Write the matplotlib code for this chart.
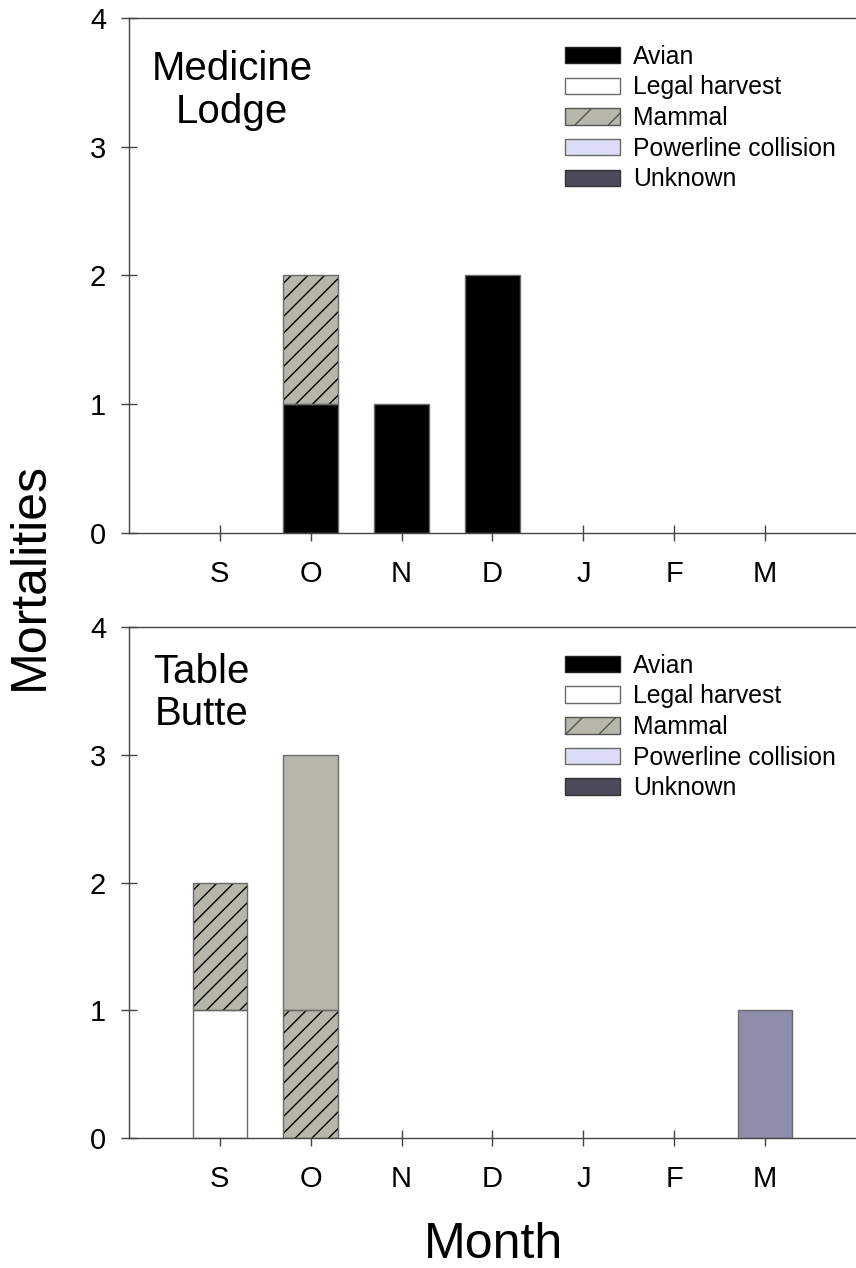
import numpy as np
import matplotlib.pyplot as plt
from matplotlib.patches import Patch

plt.rcParams['font.family'] = ['Liberation Sans', 'DejaVu Sans']
plt.rcParams['hatch.linewidth'] = 1.0

months = ['S', 'O', 'N', 'D', 'J', 'F', 'M']
causes = ['Avian', 'Legal harvest', 'Mammal', 'Powerline collision', 'Unknown']

# Medicine Lodge
avian_ml = [0, 1, 1, 2, 0, 0, 0]
legal_ml = [0, 0, 0, 0, 0, 0, 0]
mammal_ml = [0, 1, 0, 0, 0, 0, 0]
mammal_plain_ml = [0, 0, 0, 0, 0, 0, 0]
power_ml = [0, 0, 0, 0, 0, 0, 0]
unknown_ml = [0, 0, 0, 0, 0, 0, 0]

# Table Butte
avian_tb = [0, 0, 0, 0, 0, 0, 0]
legal_tb = [1, 0, 0, 0, 0, 0, 0]
mammal_tb = [1, 1, 0, 0, 0, 0, 0]
mammal_plain_tb = [0, 2, 0, 0, 0, 0, 0]
power_tb = [0, 0, 0, 0, 0, 0, 0]
unknown_tb = [0, 0, 0, 0, 0, 0, 1]

c_avian = 'black'
c_legal = 'white'
c_mammal = '#b6b6ab'
c_power = '#dcdcf6'
c_unknown = '#4b4b5b'
c_unknown_bar = '#8e8eaa'
edge = '#6a6a6a'
axc = '#444444'

fig = plt.figure(figsize=(8.56, 12.68), dpi=100)
ax1 = fig.add_axes([0.1507, 0.5797, 0.8493, 0.4061])
ax2 = fig.add_axes([0.1507, 0.1025, 0.8493, 0.4030])

x = np.arange(1, 8)
w = 0.6


def panel(ax, series, title, tx, ty, ha):
    bottom = np.zeros(7)
    for vals, col, hatch in series:
        vals = np.array(vals, dtype=float)
        m = vals > 0
        if m.any():
            if hatch:
                ax.bar(x[m], vals[m], w, bottom=bottom[m], color=col, hatch=hatch,
                       edgecolor='black', linewidth=0, zorder=2)
            else:
                ax.bar(x[m], vals[m], w, bottom=bottom[m], color=col,
                       linewidth=0, zorder=2)
            ax.bar(x[m], vals[m], w, bottom=bottom[m], fill=False, edgecolor=edge,
                   linewidth=1.0, zorder=3)
        bottom += vals
    ax.set_xlim(0, 8)
    ax.set_ylim(0, 4)
    ax.set_xticks(x)
    ax.set_xticklabels(months)
    ax.set_yticks([0, 1, 2, 3, 4])
    ax.tick_params(axis='x', direction='inout', length=11, width=1,
                   color=axc, labelsize=21, pad=14)
    ax.tick_params(axis='y', direction='inout', length=11, width=1,
                   color=axc, labelsize=21, pad=11)
    ax.spines['right'].set_visible(False)
    for s in ['left', 'bottom', 'top']:
        ax.spines[s].set_color(axc)
        ax.spines[s].set_linewidth(1.0)
    ax.text(tx, ty, title, transform=ax.transAxes, ha=ha, va='top',
            fontsize=29, multialignment='center', linespacing=1.15)
    handles = [
        Patch(facecolor=c_avian, edgecolor='#222222', label=causes[0]),
        Patch(facecolor=c_legal, edgecolor=edge, label=causes[1]),
        Patch(facecolor=c_mammal, edgecolor='#555555', hatch='/', label=causes[2]),
        Patch(facecolor=c_power, edgecolor=edge, label=causes[3]),
        Patch(facecolor=c_unknown, edgecolor='#333333', label=causes[4]),
    ]
    ax.legend(handles=handles, loc='upper left', bbox_to_anchor=(0.6, 0.948),
              frameon=False, fontsize=17.8, handlelength=2.23, handleheight=0.65,
              handletextpad=0.5, labelspacing=0.27, borderpad=0, borderaxespad=0)


panel(ax1, [(avian_ml, c_avian, None), (legal_ml, c_legal, None),
            (mammal_ml, c_mammal, '//'), (mammal_plain_ml, c_mammal, None),
            (power_ml, c_power, None), (unknown_ml, c_unknown_bar, None)],
      'Medicine\nLodge', 0.142, 0.937, 'center')
panel(ax2, [(avian_tb, c_avian, None), (legal_tb, c_legal, None),
            (mammal_tb, c_mammal, '//'), (mammal_plain_tb, c_mammal, None),
            (power_tb, c_power, None), (unknown_tb, c_unknown_bar, None)],
      'Table\nButte', 0.033, 0.95, 'left')

fig.text(0.035, 0.546, 'Mortalities', rotation=90, ha='center', va='center',
         fontsize=36)
fig.text(0.577, 0.018, 'Month', ha='center', va='center', fontsize=36)

plt.savefig('out.png', dpi=100)
